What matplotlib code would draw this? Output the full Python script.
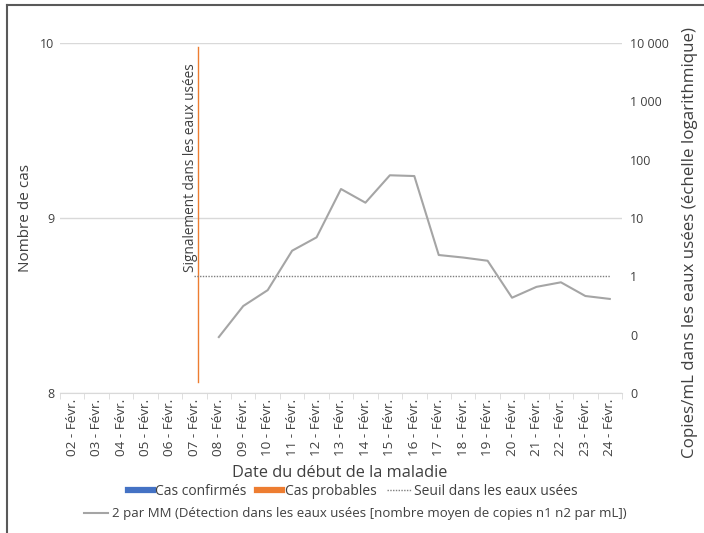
import numpy as np
import matplotlib
matplotlib.use("Agg")
import matplotlib.pyplot as plt
from matplotlib.lines import Line2D
from matplotlib.ticker import FixedLocator, FuncFormatter, NullLocator

plt.rcParams['font.family'] = ['Open Sans', 'DejaVu Sans']

# --- data -------------------------------------------------------------
dates = [f"{d:02d} - Févr." for d in range(2, 25)]
cas_confirmes = [0] * 23
cas_probables = [0] * 23
seuil = [np.nan] * 5 + [1] * 18
copies_mm = [np.nan] * 6 + [0.091, 0.31, 0.58, 2.75, 4.66, 31.4, 18.3, 54, 52.4,
                            2.32, 2.1, 1.85, 0.43, 0.66, 0.79, 0.46, 0.41]
signal_pos = 5.15          # date du signalement (entre le 07 et le 08)
left_ticks = [8, 9, 10]
right_ticks = [0.01, 0.1, 1, 10, 100, 1000, 10000]

# --- colours ----------------------------------------------------------
BLUE = '#4472c4'
ORANGE = '#ed7d31'
GREY = '#a5a5a5'
GRID = '#d9d9d9'
TXT = '#404040'

W, H = 704, 533
fig = plt.figure(figsize=(W / 100, H / 100), dpi=100)
ax = fig.add_axes([60 / W, 140 / H, 562 / W, 350 / H])
x = np.arange(len(dates))

# cases (left axis)
bw = 0.6
ax.bar(x, cas_confirmes, width=bw, color=BLUE)
ax.bar(x, cas_probables, bottom=cas_confirmes, width=bw, color=ORANGE)
ax.set_ylim(8, 10)
ax.set_xlim(-0.5, len(dates) - 0.5)
ax.yaxis.set_major_locator(FixedLocator(left_ticks))
ax.grid(axis='y', color=GRID, lw=1)
ax.set_axisbelow(True)
for s in ['top', 'right', 'left']:
    ax.spines[s].set_visible(False)
ax.spines['bottom'].set_color(GRID)
ax.tick_params(axis='y', length=0, labelsize=9, labelcolor=TXT, pad=4)
ax.set_xticks(x)
ax.set_xticklabels(dates, rotation=90, fontsize=9.7, color=TXT)
ax.tick_params(axis='x', length=0, pad=4)
ax.set_xticks(np.arange(len(dates) + 1) - 0.5, minor=True)
ax.tick_params(axis='x', which='minor', length=4, color=GRID)

ax.set_ylabel('Nombre de cas', fontsize=11, color=TXT)
ax.yaxis.set_label_coords(-0.048, 0.5)
ax.set_xlabel('Date du début de la maladie', fontsize=11.8, color=TXT)
ax.xaxis.set_label_coords(0.498, -0.205)

# wastewater (right axis, log)
ax2 = ax.twinx()
ax2.set_yscale('log')
ax2.set_ylim(0.01, 10000)
ax2.yaxis.set_major_locator(FixedLocator(right_ticks))
ax2.yaxis.set_minor_locator(NullLocator())
ax2.yaxis.set_major_formatter(FuncFormatter(lambda v, p: f"{round(v):,}".replace(',', ' ')))
ax2.tick_params(axis='y', length=0, labelsize=9, labelcolor=TXT, pad=6)
for s in ax2.spines.values():
    s.set_visible(False)
ax2.plot(x, seuil, color='#7f7f7f', lw=1, linestyle=(0, (1, 1)))
ax2.plot(x, copies_mm, color=GREY, lw=1.5)
ax2.set_ylabel('Copies/mL dans les eaux usées (échelle logarithmique)', fontsize=12.2, color=TXT)
ax2.yaxis.set_label_coords(1.107, 0.43)

# signalement marker
ax.plot([signal_pos, signal_pos], [8.063, 9.977], color=ORANGE, lw=1.0, clip_on=False)
ax.text(signal_pos, 0.346, 'Signalement dans les eaux usées', rotation=90,
        transform=ax.get_xaxis_transform(), ha='right', va='bottom',
        fontsize=9.8, color=TXT)

# legend
h1 = [Line2D([], [], color=BLUE, lw=4.5),
      Line2D([], [], color=ORANGE, lw=4.5),
      Line2D([], [], color='#7f7f7f', lw=1, linestyle=(0, (1, 1)))]
leg1 = fig.legend(h1, ['Cas confirmés', 'Cas probables', 'Seuil dans les eaux usées'],
                  loc='center', bbox_to_anchor=(353 / W, 1 - 491.5 / H), ncol=3,
                  frameon=False, fontsize=10, handlelength=1.8, handletextpad=0.15,
                  columnspacing=0.8, labelcolor=TXT)
fig.legend([Line2D([], [], color=GREY, lw=1.5)],
           ['2 par MM (Détection dans les eaux usées [nombre moyen de copies n1 n2 par mL])'],
           loc='center', bbox_to_anchor=(355 / W, 1 - 514 / H), frameon=False,
           fontsize=9.5, handlelength=1.8, handletextpad=0.3, labelcolor=TXT)

# outer frame
fig.add_artist(Line2D([7.5 / W, 7.5 / W], [0, 1 - 5 / H], color='#595959', lw=1.5))
fig.add_artist(Line2D([7.5 / W, 1], [1 - 5 / H, 1 - 5 / H], color='#595959', lw=1.5))

fig.savefig('out.png', dpi=100)
